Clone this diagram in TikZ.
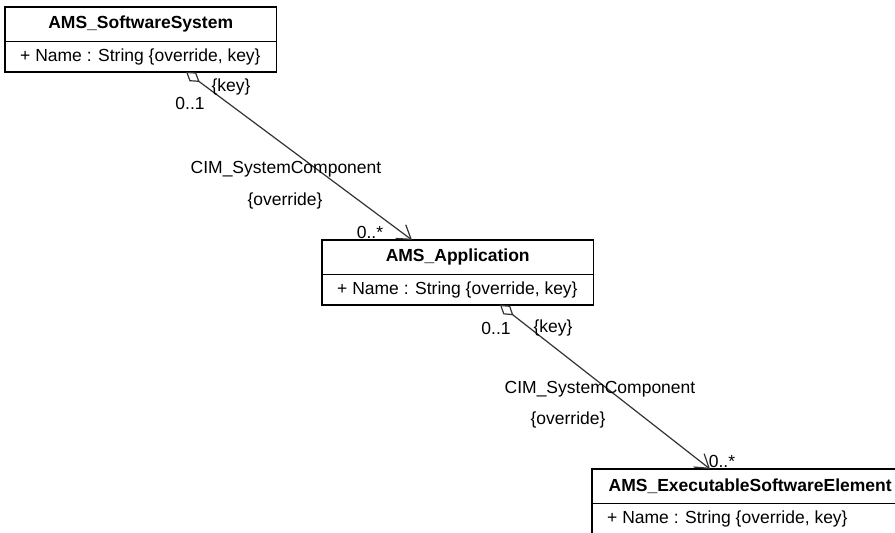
\documentclass[tikz,border=0pt]{standalone}
\usepackage{fontspec}
\setmainfont{Liberation Sans}
\usetikzlibrary{arrows.meta,positioning}

\tikzset{
  ctitle/.style={font=\fontsize{17.5}{21}\selectfont\bfseries, minimum height=34pt, inner sep=0pt, anchor=north west},
  cattr/.style={font=\fontsize{17.5}{21}\selectfont, minimum height=30pt, inner xsep=15pt, inner ysep=0pt, anchor=north west},
  cbox/.style={line width=1.8pt},
  csplit/.style={line width=0.9pt},
  assoc/.style={draw=black!80, line width=1.2pt, {Diamond[open,length=17pt,width=11pt]}-{Straight Barb[length=13pt,width=17pt]}},
  lbl/.style={font=\fontsize{17.5}{21}\selectfont, inner sep=0pt}
}

\begin{document}
\begin{tikzpicture}[x=1pt, y=-1pt]
	\fill[white] (0,0) rectangle (895,533);
	\useasboundingbox (0,0) rectangle (895,533);
	\clip (0,0) rectangle (895,533);

	% classes
	\node[ctitle, minimum width=271pt] (sysT) at (5,7) {AMS\_SoftwareSystem};
	\node[cattr] (sysA) at (sysT.south west) {+ Name : String \{override, key\}};
	\draw[cbox] (sysT.north west) rectangle (sysT.east |- sysA.south);
	\draw[csplit] (sysT.south west) -- (sysT.south east);

	\node[ctitle, minimum width=271pt] (appT) at (322,240) {AMS\_Application};
	\node[cattr] (appA) at (appT.south west) {+ Name : String \{override, key\}};
	\draw[cbox] (appT.north west) rectangle (appT.east |- appA.south);
	\draw[csplit] (appT.south west) -- (appT.south east);

	\node[lbl] (mExe) at (722,461) {0..*};

	\node[ctitle, minimum width=316pt] (exeT) at (592,469) {AMS\_ExecutableSoftwareElement};
	\node[cattr] (exeA) at (exeT.south west) {+ Name : String \{override, key\}};
	\draw[cbox] (exeT.north west) rectangle (exeT.east |- exeA.south);
	\draw[csplit] (exeT.south west) -- (exeT.south east);

	% associations
	\draw[assoc] ([xshift=181pt]sysA.south west) -- ([xshift=90pt]appT.north west);
	\draw[assoc] ([xshift=178pt]appA.south west) -- ([xshift=118pt]exeT.north west);

	% labels
	\node[lbl] (kSys) at (231,87) {\{key\}};
	\node[lbl] (mSys) at (190,103) {0..1};
	\node[lbl] (rSys) at (286,169) {CIM\_SystemComponent};
	\node[lbl] (oSys) at (285,201) {\{override\}};
	\node[lbl] (mApp) at (370,232) {0..*};

	\node[lbl] (mApp2) at (496,328) {0..1};
	\node[lbl] (kApp) at (553,328) {\{key\}};
	\node[lbl] (rApp) at (600,389) {CIM\_SystemComponent};
	\node[lbl] (oApp) at (568,420) {\{override\}};
\end{tikzpicture}
\end{document}
